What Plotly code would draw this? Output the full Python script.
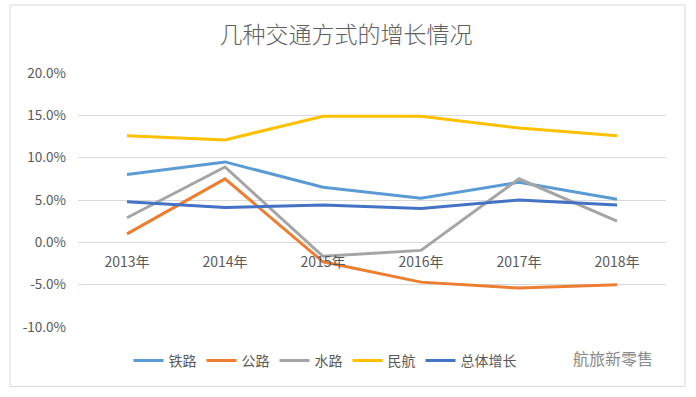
import plotly.graph_objects as go

years = ["2013年", "2014年", "2015年", "2016年", "2017年", "2018年"]
rail = [8.0, 9.5, 6.5, 5.2, 7.1, 5.1]
road = [1.0, 7.5, -2.3, -4.7, -5.4, -5.0]
water = [2.9, 8.9, -1.65, -0.95, 7.5, 2.5]
air = [12.6, 12.1, 14.9, 14.9, 13.5, 12.6]
total = [4.8, 4.1, 4.4, 4.0, 5.0, 4.4]

series_names = ["铁路", "公路", "水路", "民航", "总体增长"]
series_colors = ["#5B9BD5", "#ED7D31", "#A5A5A5", "#FFC000", "#4472C4"]
series_values = [rail, road, water, air, total]

y_ticks = [-10, -5, 0, 5, 10, 15, 20]
y_tick_labels = ["-10.0%", "-5.0%", "0.0%", "5.0%", "10.0%", "15.0%", "20.0%"]

title_text = "几种交通方式的增长情况"
watermark = "航旅新零售"

W, H = 696, 397
L, R, T, B = 78, 30, 73, 70
pw, ph = W - L - R, H - T - B

fig = go.Figure()
for name, color, vals in zip(series_names, series_colors, series_values):
    fig.add_trace(go.Scatter(x=years, y=vals, name=name, mode="lines",
                             line=dict(color=color, width=3)))

font = "Noto Sans CJK SC, Microsoft YaHei, sans-serif"
txt = "#595959"

fig.update_layout(
    width=W, height=H,
    margin=dict(l=L, r=R, t=T, b=B),
    paper_bgcolor="white", plot_bgcolor="white",
    font=dict(family=font, color=txt, size=12),
    title=dict(text=title_text, x=(346 - L) / pw, xref="paper", xanchor="center",
               y=1 - 35 / H, yanchor="middle",
               font=dict(size=23, color="#606060", weight=300)),
    showlegend=True,
    legend=dict(orientation="h", x=(325 - L) / pw, xanchor="center",
                y=(T + ph - 361) / ph, yanchor="middle",
                font=dict(size=14, color=txt), itemwidth=30,
                tracegroupgap=0),
    xaxis=dict(anchor="free", position=1 / 3, showgrid=False, showline=False,
               ticks="", tickfont=dict(size=14, color=txt), range=[-0.5, 5.5],
               ticklabelstandoff=10),
    yaxis=dict(range=[-10, 20], tickvals=y_ticks, ticktext=y_tick_labels,
               showgrid=True, gridcolor="#D9D9D9",
               gridwidth=1, zeroline=False, showline=False, ticks="",
               tickfont=dict(size=13.5, color=txt), ticklabelstandoff=11),
)

# chart border
fig.add_shape(type="rect", xref="paper", yref="paper",
              x0=(10 - L) / pw, x1=(685 - L) / pw,
              y0=(T + ph - 386.5) / ph, y1=(T + ph - 5) / ph,
              line=dict(color="#D9D9D9", width=1), layer="below")

fig.add_annotation(text=watermark, xref="paper", yref="paper",
                   x=(613 - L) / pw, y=(T + ph - 358) / ph, showarrow=False,
                   font=dict(size=16, color="#8a8a8a"), xanchor="center", yanchor="middle")

fig.write_html("out.html", config={"displayModeBar": False},
               post_script="document.body.style.margin='0';document.body.style.padding='0';")
